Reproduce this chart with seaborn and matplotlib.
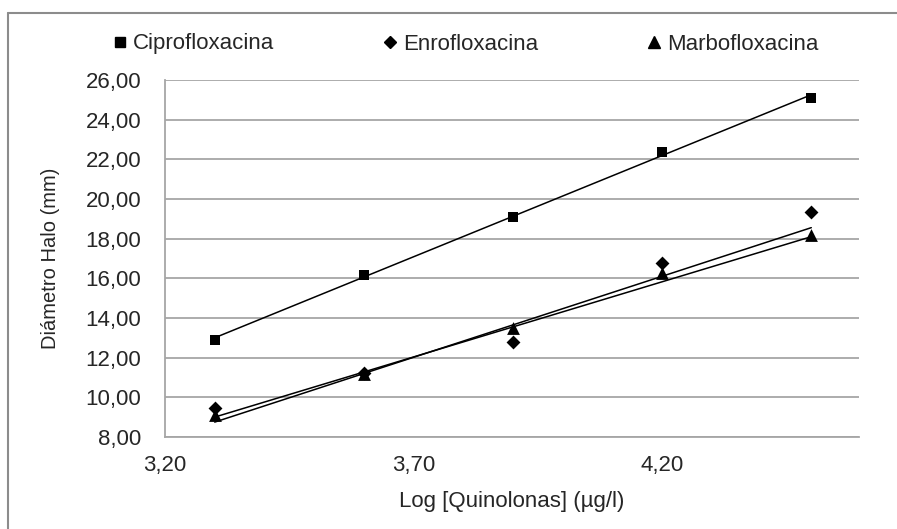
import numpy as np
import pandas as pd
import matplotlib
matplotlib.use("Agg")
import matplotlib.pyplot as plt
import seaborn as sns
from matplotlib.lines import Line2D

log_conc = [3.30, 3.60, 3.90, 4.20, 4.50]
cipro = [12.89, 16.18, 19.09, 22.36, 25.11]
enro = [9.44, 11.25, 12.80, 16.78, 19.32]
marbo = [9.13, 11.17, 13.48, 16.26, 18.20]
series_names = ["Ciprofloxacina", "Enrofloxacina", "Marbofloxacina"]
# linear trend lines as shown on the chart (slope, intercept)
trend_slope = [10.21, 8.17, 7.58]
trend_intercept = [-20.69, -18.21, -16.01]
x_ticks = [3.20, 3.70, 4.20]
y_ticks = [8, 10, 12, 14, 16, 18, 20, 22, 24, 26]

df = pd.DataFrame({
    "x": log_conc * 3,
    "y": cipro + enro + marbo,
    "serie": [series_names[0]] * 5 + [series_names[1]] * 5 + [series_names[2]] * 5,
})

sns.set_theme(style="white")
plt.rcParams["font.family"] = ["Liberation Sans", "DejaVu Sans"]

fig = plt.figure(figsize=(8.97, 5.29), dpi=100)
ax = fig.add_axes([165 / 897, 1 - 437 / 529, (859 - 165) / 897, (437 - 80) / 529])

markers = {"Ciprofloxacina": "s", "Enrofloxacina": "D", "Marbofloxacina": "^"}
msizes = {"Ciprofloxacina": 60, "Enrofloxacina": 50, "Marbofloxacina": 85}

xr = np.array([min(log_conc), max(log_conc)])
trend_df = pd.DataFrame({
    "x": np.concatenate([xr] * 3),
    "y": np.concatenate([m * xr + b for m, b in zip(trend_slope, trend_intercept)]),
    "serie": np.repeat(series_names, 2),
})
for name in series_names:
    sns.lineplot(data=trend_df[trend_df["serie"] == name], x="x", y="y", ax=ax,
                 color="black", lw=1.1, zorder=3, legend=False)
for name in series_names:
    sub = df[df["serie"] == name]
    sns.scatterplot(data=sub, x="x", y="y", ax=ax, marker=markers[name],
                    s=msizes[name], color="black", edgecolor="black",
                    linewidth=0, zorder=4, legend=False)

ax.set_xlim(3.20, 4.596)
ax.set_ylim(8, 26)
ax.set_xticks(x_ticks)
ax.set_yticks(y_ticks)
ax.set_xticklabels([f"{v:.2f}".replace(".", ",") for v in x_ticks], fontsize=16)
ax.set_yticklabels([f"{v:.2f}".replace(".", ",") for v in y_ticks], fontsize=16)
ax.tick_params(axis="y", length=0, pad=17)
ax.tick_params(axis="x", length=0, pad=13)
ax.yaxis.grid(True, color="#a6a6a6", lw=1.3)
ax.xaxis.grid(False)
for s in ["top", "right"]:
    ax.spines[s].set_visible(False)
for s in ["left", "bottom"]:
    ax.spines[s].set_color("#a6a6a6")
    ax.spines[s].set_linewidth(1.3)

ax.set_xlabel("Log [Quinolonas] (µg/l)", fontsize=16)
ax.xaxis.set_label_coords(0.5, -0.15)
ax.set_ylabel("Diámetro Halo (mm)", fontsize=14.5)
ax.yaxis.set_label_coords(-0.151, 0.5)

handles = [Line2D([], [], ls="none", marker=markers[n], color="black",
                  markersize={"s": 7, "D": 6.5, "^": 9}[markers[n]]) for n in series_names]
fig.legend(handles, series_names, loc="center left", bbox_to_anchor=(113 / 897, 1 - 44 / 529),
           ncol=3, frameon=False, fontsize=16, handlelength=0.6, handletextpad=0.3,
           columnspacing=4.9, borderpad=0, borderaxespad=0)

# outer chart border (left and top)
fig.add_artist(Line2D([8 / 897, 8 / 897], [0, 1 - 13 / 529], transform=fig.transFigure,
                      color="#8c8c8c", lw=1.5))
fig.add_artist(Line2D([8 / 897, 1], [1 - 13 / 529, 1 - 13 / 529], transform=fig.transFigure,
                      color="#8c8c8c", lw=1.5))

fig.savefig("out.png", dpi=100)
